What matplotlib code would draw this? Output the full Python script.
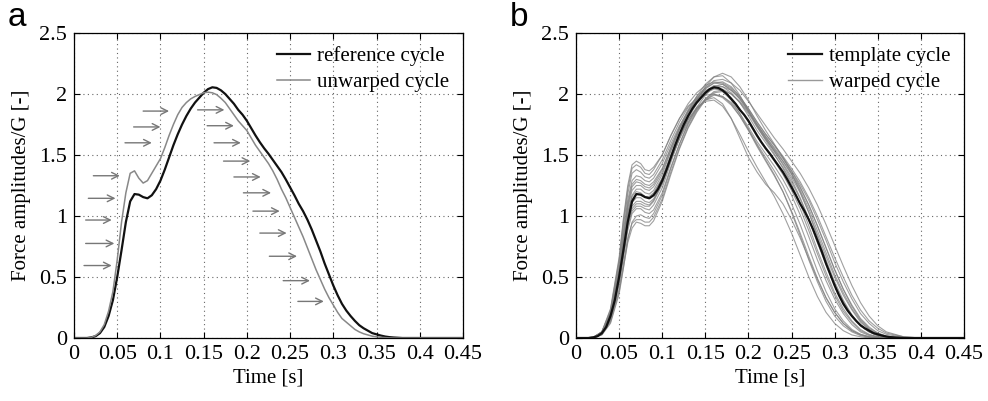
import matplotlib.pyplot as plt

plt.rcParams['font.family'] = ['Liberation Serif', 'DejaVu Serif']

# fine time grid for the two curves of panel a [s]
t_ref = [0, 0.015, 0.02, 0.025, 0.03, 0.035, 0.04, 0.045, 0.05, 0.055,
         0.06, 0.065, 0.07, 0.075, 0.08, 0.085, 0.09, 0.095, 0.1, 0.105,
         0.11, 0.115, 0.12, 0.125, 0.13, 0.135, 0.14, 0.145, 0.15, 0.155,
         0.16, 0.165, 0.17, 0.175, 0.18, 0.185, 0.19, 0.195, 0.2, 0.205,
         0.21, 0.215, 0.22, 0.225, 0.23, 0.235, 0.24, 0.245, 0.25, 0.255,
         0.26, 0.265, 0.27, 0.275, 0.28, 0.285, 0.29, 0.295, 0.3, 0.305,
         0.31, 0.315, 0.32, 0.325, 0.33, 0.335, 0.34, 0.345, 0.35, 0.355,
         0.36, 0.365, 0.37, 0.38, 0.45]

# reference / template cycle
ref = [0, 0, 0.005, 0.015, 0.04, 0.09, 0.18, 0.31, 0.50, 0.72,
       0.95, 1.12, 1.18, 1.175, 1.155, 1.145, 1.17, 1.22, 1.29, 1.38,
       1.48, 1.58, 1.67, 1.75, 1.82, 1.88, 1.93, 1.97, 2.01, 2.04,
       2.055, 2.05, 2.03, 2.0, 1.96, 1.92, 1.87, 1.83, 1.78, 1.72,
       1.66, 1.605, 1.555, 1.51, 1.46, 1.41, 1.36, 1.30, 1.235, 1.17,
       1.10, 1.04, 0.97, 0.89, 0.80, 0.71, 0.61, 0.52, 0.43, 0.35,
       0.28, 0.225, 0.18, 0.14, 0.105, 0.08, 0.06, 0.04, 0.03, 0.02,
       0.012, 0.007, 0.004, 0, 0]

# unwarped cycle
unwarped = [0, 0, 0.005, 0.02, 0.05, 0.11, 0.22, 0.38, 0.64, 0.95,
            1.19, 1.35, 1.37, 1.31, 1.27, 1.29, 1.35, 1.41, 1.47, 1.56,
            1.66, 1.75, 1.83, 1.89, 1.93, 1.96, 1.98, 1.995, 2.01, 2.015,
            2.01, 1.995, 1.965, 1.93, 1.88, 1.83, 1.78, 1.74, 1.70, 1.64,
            1.58, 1.53, 1.48, 1.43, 1.37, 1.30, 1.22, 1.15, 1.07, 0.99,
            0.91, 0.83, 0.74, 0.65, 0.56, 0.48, 0.40, 0.33, 0.27, 0.21,
            0.16, 0.13, 0.10, 0.07, 0.05, 0.035, 0.025, 0.015, 0.01, 0.006,
            0.003, 0.001, 0, 0, 0]

# arrows in panel a: start time, end time, level
arrow_t0 = [0.0116, 0.0135, 0.0135, 0.0166, 0.0224, 0.059, 0.069, 0.080, 0.143, 0.154,
            0.162, 0.173, 0.185, 0.196, 0.207, 0.215, 0.226, 0.242, 0.259]
arrow_t1 = [0.0436, 0.0467, 0.0436, 0.048, 0.053, 0.09, 0.1, 0.11, 0.174, 0.185,
            0.193, 0.204, 0.216, 0.228, 0.238, 0.246, 0.258, 0.273, 0.289]
arrow_y = [0.594, 0.775, 0.967, 1.145, 1.33, 1.60, 1.73, 1.86, 1.87, 1.74,
           1.60, 1.45, 1.32, 1.19, 1.04, 0.86, 0.67, 0.47, 0.30]

# coarser time grid for the warped cycles of panel b [s]
t = [0, 0.02, 0.03, 0.04, 0.05, 0.055, 0.06, 0.065, 0.07, 0.075, 0.08, 0.085, 0.09,
     0.1, 0.11, 0.12, 0.13, 0.14, 0.15, 0.16, 0.17, 0.18, 0.19, 0.2, 0.21,
     0.22, 0.23, 0.24, 0.25, 0.26, 0.27, 0.28, 0.29, 0.3, 0.31, 0.32, 0.33, 0.34, 0.35, 0.36, 0.38, 0.4, 0.45]

warped = [
    [0, 0.005, 0.05, 0.24, 0.66, 0.98, 1.25, 1.42, 1.45, 1.43, 1.38, 1.37, 1.40]
    + [1.50, 1.66, 1.80, 1.92, 2.01, 2.07, 2.10, 2.09, 2.05, 1.98, 1.88, 1.77]
    + [1.67, 1.58, 1.48, 1.37, 1.24, 1.09, 0.92, 0.74, 0.56, 0.40, 0.26, 0.15, 0.08, 0.04, 0.015, 0, 0, 0],
    [0, 0, 0.03, 0.13, 0.38, 0.58, 0.78, 0.90, 0.95, 0.94, 0.92, 0.92, 0.96]
    + [1.12, 1.34, 1.55, 1.72, 1.85, 1.95, 2.00, 1.98, 1.92, 1.82, 1.70, 1.57]
    + [1.45, 1.33, 1.20, 1.04, 0.86, 0.67, 0.49, 0.33, 0.21, 0.12, 0.06, 0.03, 0.01, 0.005, 0, 0, 0, 0],
    [0, 0.005, 0.04, 0.2, 0.56, 0.84, 1.10, 1.26, 1.30, 1.29, 1.26, 1.25, 1.28]
    + [1.39, 1.56, 1.72, 1.85, 1.95, 2.02, 2.07, 2.06, 2.01, 1.93, 1.82, 1.70]
    + [1.60, 1.50, 1.40, 1.28, 1.14, 0.97, 0.78, 0.60, 0.43, 0.29, 0.18, 0.10, 0.05, 0.02, 0.008, 0, 0, 0],
    [0, 0, 0.03, 0.15, 0.44, 0.66, 0.88, 1.02, 1.06, 1.06, 1.03, 1.02, 1.05]
    + [1.19, 1.40, 1.59, 1.75, 1.87, 1.96, 2.02, 2.03, 2.00, 1.94, 1.85, 1.75]
    + [1.65, 1.56, 1.47, 1.37, 1.26, 1.13, 0.97, 0.80, 0.62, 0.46, 0.32, 0.20, 0.12, 0.06, 0.03, 0.005, 0, 0],
    [0, 0.005, 0.04, 0.18, 0.52, 0.77, 1.02, 1.17, 1.22, 1.22, 1.19, 1.18, 1.21]
    + [1.34, 1.53, 1.71, 1.86, 1.98, 2.08, 2.14, 2.15, 2.09, 1.99, 1.86, 1.73]
    + [1.62, 1.51, 1.39, 1.26, 1.10, 0.92, 0.72, 0.54, 0.37, 0.24, 0.14, 0.07, 0.03, 0.01, 0, 0, 0, 0],
    [0, 0.005, 0.04, 0.17, 0.48, 0.72, 0.94, 1.06, 1.10, 1.10, 1.08, 1.08, 1.12]
    + [1.26, 1.46, 1.64, 1.79, 1.89, 1.95, 1.97, 1.92, 1.80, 1.64, 1.48, 1.36]
    + [1.26, 1.19, 1.10, 0.97, 0.82, 0.65, 0.48, 0.33, 0.21, 0.12, 0.06, 0.025, 0.01, 0, 0, 0, 0, 0],
    [0, 0.005, 0.05, 0.22, 0.62, 0.92, 1.18, 1.35, 1.38, 1.36, 1.32, 1.31, 1.34]
    + [1.46, 1.62, 1.77, 1.89, 1.97, 2.03, 2.05, 2.02, 1.95, 1.84, 1.71, 1.58]
    + [1.46, 1.34, 1.20, 1.03, 0.84, 0.64, 0.46, 0.30, 0.18, 0.10, 0.05, 0.02, 0.005, 0, 0, 0, 0, 0],
    [0, 0, 0.025, 0.12, 0.36, 0.57, 0.80, 0.95, 1.00, 1.01, 0.99, 0.98, 1.02]
    + [1.17, 1.39, 1.59, 1.76, 1.89, 1.99, 2.06, 2.08, 2.04, 1.96, 1.86, 1.74]
    + [1.63, 1.53, 1.43, 1.32, 1.19, 1.03, 0.85, 0.67, 0.50, 0.35, 0.23, 0.13, 0.07, 0.03, 0.01, 0, 0, 0],
    [0, 0.005, 0.04, 0.18, 0.50, 0.74, 0.97, 1.11, 1.15, 1.15, 1.12, 1.11, 1.14]
    + [1.27, 1.46, 1.63, 1.77, 1.88, 1.95, 1.99, 1.98, 1.93, 1.84, 1.73, 1.61]
    + [1.51, 1.41, 1.30, 1.17, 1.01, 0.83, 0.64, 0.47, 0.32, 0.20, 0.11, 0.05, 0.02, 0.008, 0, 0, 0, 0],
    [0, 0.005, 0.04, 0.19, 0.54, 0.81, 1.06, 1.21, 1.25, 1.25, 1.22, 1.21, 1.24]
    + [1.36, 1.54, 1.71, 1.85, 1.96, 2.05, 2.11, 2.12, 2.09, 2.03, 1.94, 1.84]
    + [1.74, 1.64, 1.55, 1.45, 1.35, 1.23, 1.09, 0.93, 0.76, 0.59, 0.43, 0.29, 0.18, 0.10, 0.05, 0.01, 0, 0],
    [0, 0, 0.03, 0.14, 0.40, 0.61, 0.82, 0.94, 0.97, 0.97, 0.95, 0.95, 0.99]
    + [1.14, 1.36, 1.56, 1.73, 1.86, 1.96, 2.01, 2.02, 1.97, 1.88, 1.77, 1.65]
    + [1.55, 1.45, 1.34, 1.21, 1.06, 0.88, 0.69, 0.51, 0.35, 0.22, 0.13, 0.06, 0.025, 0.01, 0, 0, 0, 0],
    [0, 0.005, 0.05, 0.21, 0.59, 0.88, 1.13, 1.29, 1.33, 1.32, 1.29, 1.28, 1.31]
    + [1.43, 1.59, 1.74, 1.86, 1.95, 2.01, 2.04, 2.04, 2.00, 1.93, 1.84, 1.73]
    + [1.63, 1.54, 1.45, 1.35, 1.23, 1.09, 0.92, 0.74, 0.56, 0.40, 0.27, 0.16, 0.09, 0.04, 0.015, 0, 0, 0],
    [0, 0, 0.03, 0.15, 0.45, 0.68, 0.91, 1.04, 1.08, 1.08, 1.06, 1.05, 1.09]
    + [1.23, 1.44, 1.64, 1.81, 1.95, 2.06, 2.14, 2.17, 2.14, 2.06, 1.95, 1.82]
    + [1.70, 1.59, 1.48, 1.35, 1.20, 1.03, 0.83, 0.64, 0.46, 0.31, 0.19, 0.10, 0.05, 0.02, 0.005, 0, 0, 0],
    [0, 0.005, 0.05, 0.2, 0.55, 0.80, 1.03, 1.16, 1.20, 1.19, 1.16, 1.16, 1.19]
    + [1.31, 1.49, 1.66, 1.79, 1.88, 1.94, 1.95, 1.90, 1.80, 1.67, 1.53, 1.40]
    + [1.28, 1.16, 1.02, 0.86, 0.68, 0.50, 0.34, 0.21, 0.12, 0.06, 0.025, 0.01, 0, 0, 0, 0, 0, 0],
    [0, 0.005, 0.04, 0.19, 0.55, 0.82, 1.08, 1.24, 1.28, 1.27, 1.24, 1.23, 1.26]
    + [1.38, 1.56, 1.73, 1.87, 1.98, 2.05, 2.09, 2.08, 2.03, 1.96, 1.86, 1.75]
    + [1.65, 1.55, 1.45, 1.34, 1.21, 1.06, 0.88, 0.70, 0.52, 0.37, 0.24, 0.14, 0.07, 0.03, 0.01, 0, 0, 0],
    [0, 0, 0.035, 0.16, 0.47, 0.71, 0.94, 1.08, 1.12, 1.12, 1.10, 1.09, 1.13]
    + [1.27, 1.47, 1.65, 1.80, 1.92, 2.00, 2.05, 2.06, 2.03, 1.97, 1.88, 1.77]
    + [1.67, 1.58, 1.49, 1.39, 1.28, 1.15, 1.00, 0.83, 0.66, 0.50, 0.35, 0.23, 0.14, 0.08, 0.04, 0.01, 0, 0],
    [0, 0.005, 0.05, 0.23, 0.64, 0.96, 1.22, 1.39, 1.42, 1.40, 1.35, 1.34, 1.38]
    + [1.50, 1.66, 1.80, 1.90, 1.96, 1.99, 2.00, 1.97, 1.91, 1.82, 1.71, 1.59]
    + [1.48, 1.37, 1.25, 1.10, 0.93, 0.74, 0.55, 0.38, 0.24, 0.14, 0.07, 0.03, 0.01, 0, 0, 0, 0, 0],
    [0, 0.005, 0.04, 0.18, 0.51, 0.76, 1.00, 1.14, 1.18, 1.18, 1.16, 1.15, 1.18]
    + [1.31, 1.50, 1.68, 1.83, 1.95, 2.04, 2.09, 2.10, 2.06, 1.98, 1.87, 1.75]
    + [1.64, 1.53, 1.42, 1.30, 1.15, 0.98, 0.79, 0.61, 0.44, 0.30, 0.18, 0.10, 0.05, 0.02, 0.005, 0, 0, 0],
]

xticks = [0, 0.05, 0.1, 0.15, 0.2, 0.25, 0.3, 0.35, 0.4, 0.45]
xticklabels = ['0', '0.05', '0.1', '0.15', '0.2', '0.25', '0.3', '0.35', '0.4', '0.45']
yticks = [0, 0.5, 1, 1.5, 2, 2.5]
yticklabels = ['0', '0.5', '1', '1.5', '2', '2.5']

fig = plt.figure(figsize=(9.88, 4.01), dpi=100)
ax1 = fig.add_axes([0.0749, 0.1571, 0.3937, 0.7606])
ax2 = fig.add_axes([0.583, 0.1571, 0.3927, 0.7606])


def style(ax):
    ax.set_xlim(0, 0.45)
    ax.set_ylim(0, 2.5)
    ax.set_xticks(xticks)
    ax.set_xticklabels(xticklabels)
    ax.set_yticks(yticks)
    ax.set_yticklabels(yticklabels)
    ax.tick_params(direction='in', length=4, width=0.8, labelsize=16,
                   top=True, right=True, pad=5)
    ax.grid(True, linestyle=(0, (1, 3)), color='#666666', linewidth=0.8)
    for s in ax.spines.values():
        s.set_linewidth(0.9)
    ax.set_xlabel('Time [s]', fontsize=15, labelpad=3)
    ax.set_ylabel('Force amplitudes/G [-]', fontsize=15, labelpad=6)


leg_kw = dict(loc='upper right', frameon=False, fontsize=15, handlelength=1.6,
              handletextpad=0.35, borderaxespad=0.25, labelspacing=0.3)

# panel a
style(ax1)
ax1.plot(t_ref, ref, color='#111111', lw=1.6, label='reference cycle')
ax1.plot(t_ref, unwarped, color='#888888', lw=1.1, label='unwarped cycle')
for i in range(len(arrow_y)):
    ax1.annotate('', xy=(arrow_t1[i], arrow_y[i]), xytext=(arrow_t0[i], arrow_y[i]),
                 arrowprops=dict(arrowstyle='->', color='#777777', lw=1.0,
                                 shrinkA=0, shrinkB=0, mutation_scale=12))
ax1.legend(**leg_kw)
fig.text(0.008, 0.935, 'a', fontsize=24, family='Liberation Sans')

# panel b
style(ax2)
for w in warped:
    ax2.plot(t, w, color='#808080', lw=0.8, alpha=0.75)
ax2.plot([], [], color='#999999', lw=1.0, label='warped cycle')
ax2.plot(t_ref, ref, color='#111111', lw=1.6, label='template cycle', zorder=5)
h, l = ax2.get_legend_handles_labels()
ax2.legend([h[1], h[0]], [l[1], l[0]], **leg_kw)
fig.text(0.516, 0.935, 'b', fontsize=24, family='Liberation Sans')

fig.savefig('out.png', dpi=100)
